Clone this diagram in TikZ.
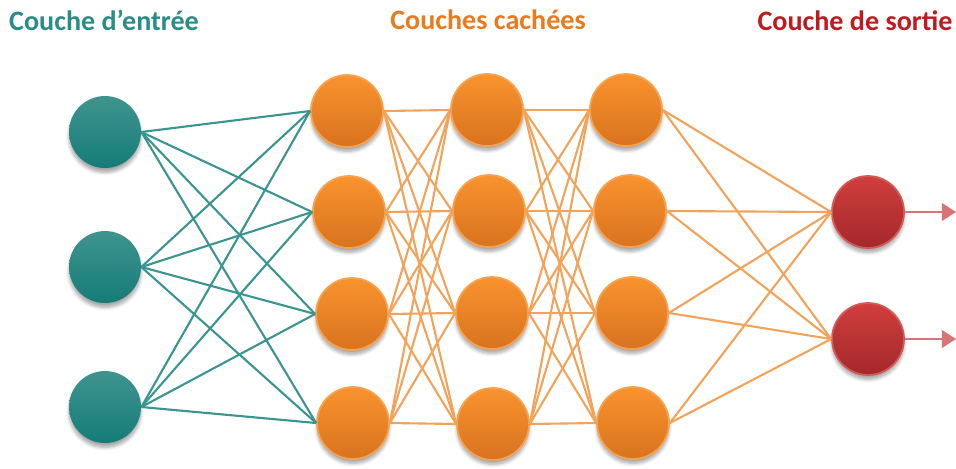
\documentclass[tikz,border=0pt]{standalone}
\usepackage{fontspec}
\setmainfont{Carlito}
\usetikzlibrary{positioning,arrows.meta,shadows.blur}
\definecolor{tealtop}{HTML}{3F948F}
\definecolor{tealbot}{HTML}{157C77}
\definecolor{tealedge}{HTML}{3A9590}
\definecolor{orgtop}{HTML}{F9932E}
\definecolor{orgbot}{HTML}{D8731F}
\definecolor{orgrim}{HTML}{F6A24F}
\definecolor{orgedge}{HTML}{F2A359}
\definecolor{redtop}{HTML}{D03E3C}
\definecolor{redbot}{HTML}{A4282B}
\definecolor{redrim}{HTML}{D45A58}
\definecolor{arrc}{HTML}{D87476}
\definecolor{ttlteal}{HTML}{2A8C87}
\definecolor{ttlorg}{HTML}{EA7A1C}
\definecolor{ttlred}{HTML}{C01A1F}

\begin{document}
\begin{tikzpicture}[
  x=0.02cm, y=-0.02cm,
  neuron/.style={circle, minimum size=1.44cm, inner sep=0pt,
    blur shadow={shadow xshift=0pt, shadow yshift=-2.5pt,
      shadow blur steps=6, shadow opacity=35}},
  inp/.style={neuron, top color=tealtop, bottom color=tealbot},
  hid/.style={neuron, top color=orgtop, bottom color=orgbot,
    draw=orgrim, line width=1pt},
  outp/.style={neuron, top color=redtop, bottom color=redbot,
    draw=redrim, line width=1pt},
  title/.style={font=\bfseries\fontsize{16}{18}\selectfont},
  wteal/.style={draw=tealedge, line width=1.2pt},
  worg/.style={draw=orgedge, line width=1.2pt},
  arr/.style={-{Triangle[length=8pt, width=10pt]}, draw=arrc, fill=arrc,
    line width=1.3pt}
]
\useasboundingbox (0,0) rectangle (956,468);
% layer titles
\node[title, text=ttlteal] (tin)  at (104,20) {Couche d’entrée};
\node[title, text=ttlorg]  (thid) at (488,20) {Couches cachées};
\node[title, text=ttlred]  (tout) at (855,21) {Couche de sortie};
% input layer
\node[inp] (in1) at (105,132) {};
\node[inp] (in2) at (105,267) {};
\node[inp] (in3) at (105,407) {};
% hidden layers
\node[hid] (ha1) at (347,111) {};
\node[hid] (ha2) at (349,212) {};
\node[hid] (ha3) at (352,314) {};
\node[hid] (ha4) at (353,423) {};
\node[hid] (hb1) at (487,110) {};
\node[hid] (hb2) at (489,211) {};
\node[hid] (hb3) at (492,313) {};
\node[hid] (hb4) at (493,424) {};
\node[hid] (hc1) at (626,110) {};
\node[hid] (hc2) at (630,211) {};
\node[hid] (hc3) at (632,313) {};
\node[hid] (hc4) at (633,423) {};
% output layer
\node[outp] (out1) at (868,212) {};
\node[outp] (out2) at (868,339) {};
\coordinate (y1) at (956,212);
\coordinate (y2) at (956,339);
% connections
\foreach \i in {1,2,3}
  \foreach \j in {1,...,4}
    \draw[wteal] (in\i.east) -- (ha\j.west);
\foreach \i in {1,...,4}
  \foreach \j in {1,...,4} {
    \draw[worg] (ha\i.east) -- (hb\j.west);
    \draw[worg] (hb\i.east) -- (hc\j.west);
  }
\foreach \i in {1,...,4}
  \foreach \j in {1,2}
    \draw[worg] (hc\i.east) -- (out\j.west);
\draw[arr] (out1.east) -- (y1);
\draw[arr] (out2.east) -- (y2);
\end{tikzpicture}
\end{document}
